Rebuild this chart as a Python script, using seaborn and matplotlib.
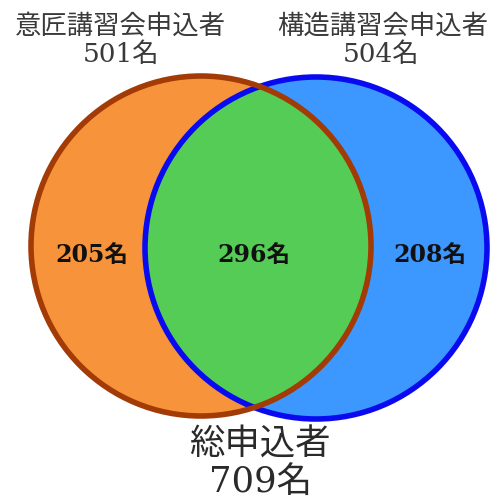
import matplotlib
matplotlib.use("Agg")
import matplotlib.pyplot as plt
from matplotlib.patches import Circle
import seaborn as sns

# Applicant counts
set_names = ["意匠講習会申込者", "構造講習会申込者"]
set_totals = [501, 504]
region_counts = [205, 296, 208]   # left only, both, right only
grand_label = "総申込者"
grand_total = 709
unit = "名"

sns.set_theme(style="white")
plt.rcParams["font.family"] = ["DejaVu Serif", "Noto Sans CJK JP"]

fig = plt.figure(figsize=(4.97, 5.02), dpi=100)
ax = fig.add_axes([0, 0, 1, 1])
ax.set_xlim(0, 497)
ax.set_ylim(502, 0)
ax.set_aspect("equal")
ax.axis("off")

left_c, left_r = (201, 247), 170
right_c, right_r = (316, 249), 171

orange = "#F7933B"
green = "#55CC55"
blue = "#3C97FF"

right_fill = Circle(right_c, right_r, facecolor=blue, edgecolor="none", zorder=1)
left_fill = Circle(left_c, left_r, facecolor=orange, edgecolor="none", zorder=2)
ax.add_patch(right_fill)
ax.add_patch(left_fill)

both_fill = Circle(right_c, right_r, facecolor=green, edgecolor="none", zorder=3)
ax.add_patch(both_fill)
both_fill.set_clip_path(left_fill)

ax.add_patch(Circle(right_c, right_r, facecolor="none", edgecolor="#0A0AF0",
                    linewidth=4, zorder=4))
ax.add_patch(Circle(left_c, left_r, facecolor="none", edgecolor="#A23B05",
                    linewidth=4, zorder=5))

head_kw = dict(ha="center", va="center", fontsize=19, color="#3A3A3A", zorder=6)
ax.text(120, 26, set_names[0], **head_kw)
ax.text(121, 54, f"{set_totals[0]}{unit}", **head_kw)
ax.text(383, 26, set_names[1], **head_kw)
ax.text(381, 54, f"{set_totals[1]}{unit}", **head_kw)

inner_kw = dict(ha="center", va="center", fontsize=17, color="#111111",
                fontweight="bold", zorder=6)
for x, n in zip([92, 254, 430], region_counts):
    ax.text(x, 255, f"{n}{unit}", **inner_kw)

foot_kw = dict(ha="center", va="center", fontsize=25.5, color="#2A2A2A", zorder=6)
ax.text(260, 445, grand_label, **foot_kw)
ax.text(260, 482, f"{grand_total}{unit}", **foot_kw)

fig.savefig("out.png", dpi=100, facecolor="white")
